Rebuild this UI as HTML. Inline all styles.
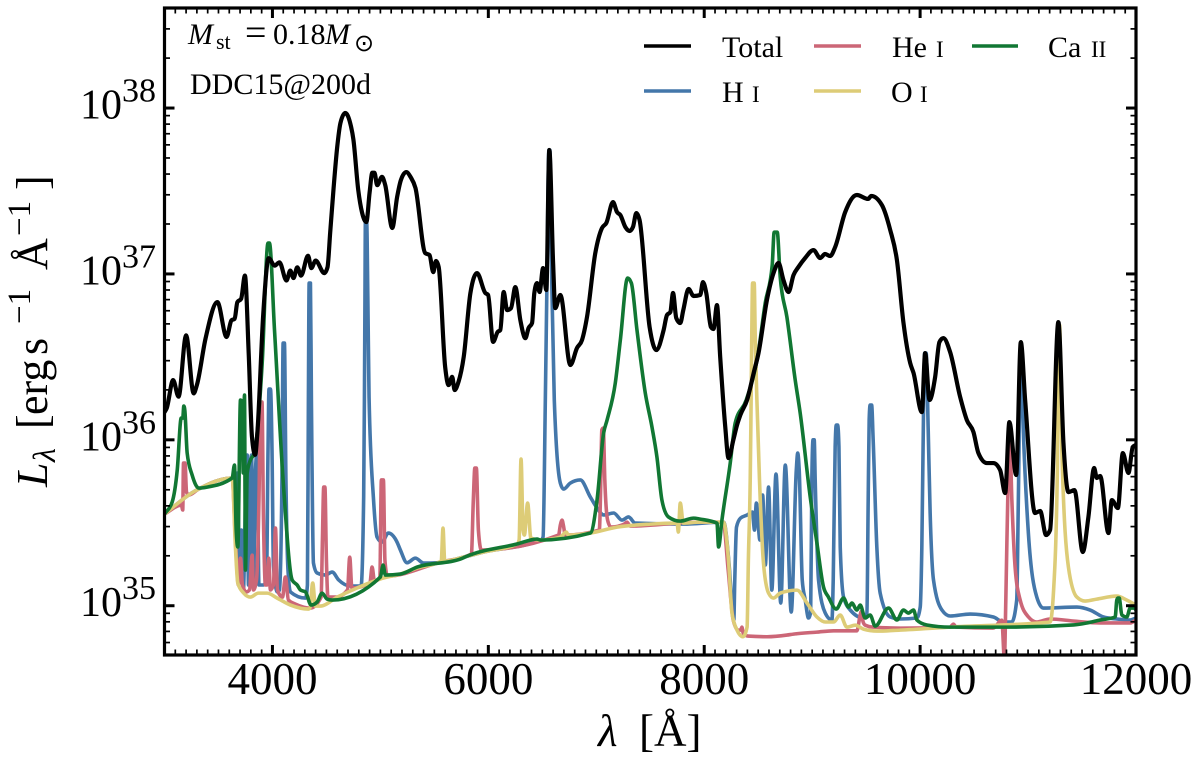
<!DOCTYPE html>
<html lang="en">
<head>
<meta charset="utf-8">
<title>Spectrum DDC15@200d</title>
<style>
html,body{margin:0;padding:0;background:#fff;width:1200px;height:767px;overflow:hidden}
svg{display:block}
text{font-family:"Liberation Serif","DejaVu Serif",serif;fill:#000}
</style>
</head>
<body>
<svg id="chart" xmlns="http://www.w3.org/2000/svg" width="1200" height="767" viewBox="0 0 1200 767">
  <defs><clipPath id="plot-clip"><rect x="164" y="8" width="972" height="647"/></clipPath></defs>
  <rect x="0" y="0" width="1200" height="767" fill="#fff"/>
  <g id="series" clip-path="url(#plot-clip)" fill="none" stroke-linejoin="round" stroke-linecap="round"></g>
  <g id="ticks" stroke="#000"></g>
  <rect x="164.5" y="8" width="971.5" height="647" fill="none" stroke="#000" stroke-width="3.2"/>
  <g id="tick-labels"></g>

  <text y="746" font-size="45"><tspan x="598" font-style="italic">λ</tspan><tspan x="639">[Å]</tspan></text>

  <text transform="translate(47,487) rotate(-90)" font-size="44"><tspan x="0" y="0" font-style="italic">L</tspan><tspan x="25" y="8" font-size="32" font-style="italic">λ</tspan><tspan x="58" y="0">[</tspan><tspan x="72" y="0">erg</tspan><tspan x="132" y="0">s</tspan><tspan x="163" y="-17" font-size="33">−1</tspan><tspan x="217" y="0">Å</tspan><tspan x="251" y="-17" font-size="33">−1</tspan><tspan x="297" y="0">]</tspan></text>

  <g>
    <text x="188" y="44" font-size="30" font-style="italic">M</text>
    <text x="216" y="49" font-size="22">st</text>
    <text x="245" y="45" font-size="38">=</text>
    <text x="273" y="44" font-size="30">0.18</text>
    <text x="325" y="44" font-size="30" font-style="italic">M</text>
    <text x="354" y="51" font-size="24" style='font-family:"DejaVu Sans",sans-serif'>⊙</text>
  </g>
  <text x="190" y="94" font-size="30">DDC15@200d</text>

  <g>
    <g>
      <line x1="644" y1="46" x2="691" y2="46" stroke="#000" stroke-width="3.6"/>
      <text x="722" y="57" font-size="30">Total</text>
    </g>
    <g>
      <line x1="644" y1="91" x2="691" y2="91" stroke="#4477AA" stroke-width="3.6"/>
      <text x="722" y="102" font-size="30">H</text><text x="752" y="102" font-size="23">I</text>
    </g>
    <g>
      <line x1="814" y1="46" x2="861" y2="46" stroke="#CC6677" stroke-width="3.6"/>
      <text x="892" y="57" font-size="30">He</text><text x="936" y="57" font-size="23">I</text>
    </g>
    <g>
      <line x1="814" y1="91" x2="861" y2="91" stroke="#DDCC77" stroke-width="3.6"/>
      <text x="891" y="102" font-size="30">O</text><text x="920" y="102" font-size="23">I</text>
    </g>
    <g>
      <line x1="972" y1="46" x2="1018" y2="46" stroke="#117733" stroke-width="3.6"/>
      <text x="1048" y="57" font-size="30">Ca</text><text x="1091" y="57" font-size="23">II</text>
    </g>
  </g>
</svg>
<script>
// Tick labels
const xTickValues = [4000, 6000, 8000, 10000, 12000];
const xTickLabels = ['4000', '6000', '8000', '10000', '12000'];
const yTickDecades = [35, 36, 37, 38];
const yTickExponents = ['35', '36', '37', '38'];

// Total spectrum (wavelength in Angstrom, log10 luminosity)
const totalWave = [
3000,3020,3080,3130,3200,3270,3300,3380,3490,3575,
3620,3650,3675,3710,3745,3780,3810,3840,3860,3915,
3965,4020,4065,4130,4165,4195,4230,4265,4330,4360,
4400,4480,4510,4535,4565,4600,4630,4675,4720,4750,
4795,4830,4870,4900,4925,4945,4970,5015,5045,5110,
5155,5190,5240,5280,5325,5415,5455,5490,5515,5540,
5600,5632,5665,5688,5720,5772,5834,5895,5972,5998,
6044,6086,6111,6142,6174,6210,6250,6297,6343,6373,
6405,6426,6451,6475,6507,6537,6565,6600,6620,6667,
6760,6821,6868,6914,6991,7053,7093,7155,7192,7223,
7269,7309,7340,7371,7401,7494,7556,7624,7655,7686,
7711,7741,7778,7806,7855,7901,7963,7988,8019,8062,
8086,8118,8148,8195,8225,8270,8304,8335,8397,8458,
8503,8581,8642,8688,8734,8781,8827,8873,8935,9012,
9074,9120,9167,9213,9306,9414,9519,9547,9646,9723,
9785,9846,9908,9939,10016,10047,10087,10139,10179,10216,
10278,10371,10433,10494,10540,10618,10679,10741,10788,10827,
10890,10933,10973,11065,11112,11167,11204,11281,11328,11374,
11430,11507,11559,11612,11637,11668,11745,11776,11832,11878,
11930,11970,12000];
const totalLogL = [
36.167,36.19,36.36,36.26,36.63,36.28,36.33,36.61,36.83,36.62,
36.72,36.73,36.83,36.85,36.99,36.52,36.02,35.91,36.04,36.76,
37.095,37.05,37.07,36.96,37.02,36.975,37.04,36.99,37.11,37.035,
37.08,37.005,37.04,37.25,37.505,37.765,37.91,37.97,37.91,37.81,
37.505,37.37,37.313,37.49,37.61,37.61,37.535,37.585,37.535,37.277,
37.464,37.566,37.614,37.584,37.518,37.126,37.114,37.011,37.078,37.042,
36.439,36.33,36.38,36.30,36.342,36.50,36.885,37.005,36.885,36.873,
36.59,36.65,36.662,36.891,36.782,36.794,36.921,36.72,36.613,36.674,
36.704,36.885,36.945,36.891,37.035,36.903,37.747,37.066,36.794,36.873,
36.451,36.553,36.602,36.74,37.126,37.277,37.307,37.433,37.373,37.355,
37.283,37.259,37.283,37.367,37.325,36.68,36.541,36.662,36.752,36.77,
36.885,36.734,36.704,36.782,36.909,36.867,36.873,36.951,36.885,36.68,
36.668,36.812,36.499,36.077,35.89,36.0,36.089,36.15,36.24,36.403,
36.523,36.843,37.005,37.066,36.963,36.891,36.993,37.042,37.096,37.144,
37.096,37.12,37.108,37.162,37.373,37.476,37.452,37.47,37.415,37.265,
37.084,36.704,36.463,36.403,36.167,36.523,36.24,36.378,36.589,36.613,
36.529,36.258,36.119,36.047,35.92,35.86,35.86,35.818,35.679,36.107,
35.788,36.589,36.24,35.559,35.571,35.426,35.456,36.71,35.98,35.685,
35.697,35.324,35.535,35.83,35.77,35.782,35.438,35.637,35.589,35.92,
35.80,35.957,35.97];

// H I
const hiWave = [
3000,3270,3315,3627,3657,3676,3694,3713,3731,3750,
3766,3778,3796,3806,3824,3843,3858,3875,3917,3945,
3959,3968,3982,3996,4009,4046,4065,4088,4099,4111,
4125,4144,4167,4306,4324,4333,4340,4352,4361,4380,
4414,4491,4553,4614,4722,4821,4845,4852,4857,4861,
4873,4884,4895,4935,4969,5015,5074,5154,5185,5247,
5324,5401,5525,5769,5954,6487,6507,6528,6542,6561,
6570,6589,6611,6667,6698,6759,6852,6945,7007,7068,
7161,7238,7299,7361,7806,8181,8227,8264,8274,8283,
8299,8336,8398,8447,8466,8483,8516,8541,8566,8596,
8626,8665,8709,8751,8806,8853,8866,8880,8908,8936,
8966,8986,8997,9008,9019,9028,9059,9121,9183,9195,
9213,9223,9236,9248,9260,9291,9353,9476,9507,9519,
9528,9537,9551,9565,9599,9630,9723,9815,9970,10001,
10016,10033,10042,10056,10075,10093,10124,10202,10278,10463,
10679,10771,10849,10895,10910,10932,10957,11003,11081,11142,
11452,11575,11699,11822,11946,12000];
const hiLogL = [
35.553,35.687,35.703,35.77,35.637,35.8,35.275,35.456,35.094,35.637,
35.908,35.125,35.818,35.908,35.125,35.818,35.926,35.125,35.125,35.155,
35.938,36.306,36.306,35.938,35.245,35.083,35.095,35.758,36.583,36.583,
35.758,35.215,35.083,35.046,35.125,36.24,36.945,36.945,36.24,35.257,
35.197,35.185,35.203,35.155,35.119,35.119,35.655,36.24,36.843,37.313,
37.313,36.843,36.258,35.655,35.414,35.384,35.438,35.384,35.336,35.259,
35.287,35.257,35.259,35.293,35.323,35.396,35.414,36.24,36.903,37.747,
37.747,36.903,36.24,35.739,35.703,35.739,35.758,35.655,35.589,35.547,
35.559,35.516,35.535,35.498,35.492,35.504,35.275,34.956,34.913,35.155,
35.474,35.528,35.547,35.565,35.456,35.619,35.396,35.667,35.245,35.715,
35.094,35.794,35.016,35.848,34.962,35.818,35.92,35.818,35.155,35.034,
34.926,34.962,35.758,36.0,36.0,35.758,35.155,34.956,34.914,35.155,
35.957,36.089,36.089,35.957,35.354,35.052,34.974,34.926,34.956,35.637,
36.119,36.21,36.21,36.0,35.354,35.076,34.932,34.92,34.926,34.992,
35.354,36.24,36.523,36.523,36.059,35.559,35.155,34.974,34.938,34.95,
34.932,34.902,34.902,35.034,35.637,36.583,36.041,35.438,35.052,34.986,
34.992,34.974,34.932,34.92,34.914,34.926];

// He I
const heiWave = [
3000,3157,3169,3176,3190,3204,3222,3315,3627,3657,
3685,3704,3722,3759,3787,3812,3824,3852,3875,3889,
3903,3917,3935,3949,3966,3981,4009,4028,4046,4093,
4120,4148,4213,4352,4451,4463,4475,4486,4500,4514,
4593,4695,4716,4736,4903,4923,4945,4995,5009,5028,
5042,5065,5555,5843,5861,5875,5889,5908,5935,6651,
6667,6683,6695,6713,7028,7042,7051,7065,7079,7105,
7136,7259,7284,7315,7963,8176,8222,8269,8315,8338,
8349,8361,8405,8581,8766,8827,9044,9198,9414,9445,
9454,9472,9491,9565,9815,10278,10309,10334,10676,10757,
10781,10794,10818,10831,10850,10880,10927,11004,11081,11204,
11417,11668,11946,12000];
const heiLogL = [
35.553,35.607,35.577,35.86,35.86,35.685,35.667,35.703,35.77,35.396,
35.125,35.287,35.125,35.083,35.095,35.305,35.095,35.155,35.637,36.228,
36.228,35.516,35.125,35.125,35.287,35.095,35.125,35.468,35.095,35.052,
35.173,35.034,35.01,34.986,35.052,35.396,35.715,35.715,35.275,35.052,
35.052,35.095,35.293,35.107,35.137,35.233,35.149,35.167,35.758,35.758,
35.275,35.179,35.263,35.311,35.637,35.83,35.83,35.456,35.336,35.426,
35.486,35.516,35.486,35.426,35.456,35.758,36.059,36.071,35.758,35.516,
35.474,35.492,35.504,35.48,35.504,35.504,35.215,34.913,34.853,34.853,
34.871,34.835,34.817,34.813,34.823,34.829,34.841,34.849,34.849,34.944,
34.964,34.902,34.883,34.871,34.865,34.871,34.889,34.871,34.865,34.913,
34.68,35.034,35.836,35.999,35.637,35.233,35.034,34.932,34.902,34.92,
34.908,34.896,34.896,34.914];

// O I
const oiWave = [
3000,3270,3315,3627,3657,3679,3734,3796,3870,3951,
4044,4167,4333,4347,4373,4398,4445,4600,4784,5028,
5185,5340,5546,5564,5580,5596,5769,5954,6266,6285,
6303,6322,6334,6364,6394,6482,6667,6722,6741,6945,
7192,7501,7749,7760,7778,7806,7963,8179,8225,8257,
8304,8359,8397,8409,8426,8432,8440,8448,8463,8473,
8488,8512,8549,8596,8642,8704,8859,8952,9044,9121,
9198,9260,9322,9399,9476,9600,9815,10278,11204,11235,
11272,11281,11292,11313,11374,11452,11529,11637,11822,11915,
12000];
const oiLogL = [
35.553,35.687,35.703,35.77,35.354,35.137,35.076,35.052,35.076,35.076,
35.046,35.004,34.98,34.986,35.137,34.998,34.998,35.052,35.107,35.167,
35.191,35.227,35.263,35.269,35.468,35.269,35.293,35.323,35.372,35.396,
35.884,35.456,35.426,35.619,35.408,35.396,35.414,35.444,35.426,35.438,
35.474,35.492,35.498,35.444,35.619,35.498,35.504,35.504,35.275,34.956,
34.853,34.813,34.871,35.275,35.758,36.077,36.602,36.945,36.945,36.602,
36.24,35.758,35.257,35.076,35.046,35.076,35.094,35.016,34.932,34.902,
34.902,34.944,34.871,34.883,34.859,34.847,34.853,34.871,34.902,35.076,
35.836,36.692,36.692,35.938,35.233,35.052,35.028,35.04,35.058,35.034,
35.004];

// Ca II
const caiiWave = [
3000,3071,3118,3155,3169,3179,3188,3210,3256,3318,
3395,3627,3648,3664,3679,3704,3720,3729,3741,3750,
3766,3796,3833,3905,3959,3972,4019,4105,4183,4229,
4259,4306,4358,4414,4460,4506,4552,5000,5025,5046,
5185,5340,5741,5803,6266,6451,6482,6945,7007,7068,
7100,7176,7223,7290,7325,7377,7454,7516,7562,7608,
7669,7778,7901,7963,8118,8133,8164,8241,8287,8389,
8500,8565,8630,8648,8676,8704,8766,8843,8889,8982,
9044,9105,9151,9223,9291,9337,9368,9414,9445,9491,
9537,9584,9707,9785,9846,9892,9939,9970,10062,10278,
10803,11420,11544,11668,11807,11822,11832,11844,11869,11915,
11946,11983,12000];
const caiiLogL = [
35.553,35.625,35.818,36.131,36.131,36.204,36.18,35.92,35.788,35.709,
35.715,35.77,35.848,35.456,35.354,36.24,36.228,35.8,36.27,35.215,
35.8,35.878,35.92,36.463,37.186,37.186,36.662,35.697,35.155,35.125,
35.095,35.083,35.004,35.022,35.076,35.04,35.034,35.173,35.245,35.185,
35.191,35.233,35.281,35.299,35.372,35.402,35.396,35.438,35.637,36.041,
36.119,36.342,36.602,36.975,36.945,36.662,36.282,36.077,35.896,35.637,
35.535,35.51,35.528,35.522,35.498,35.354,35.516,35.86,36.101,36.24,
36.523,36.824,37.054,37.252,37.252,36.981,36.74,36.36,36.162,35.655,
35.378,35.113,35.052,34.98,35.046,34.992,35.016,34.974,35.004,34.926,
34.944,34.877,34.986,34.914,34.974,34.956,34.974,34.914,34.884,34.871,
34.871,34.884,34.896,34.914,34.932,35.034,35.046,35.046,34.944,34.932,
34.986,34.986,34.974];

// Axis functions
const xDomain = [3000, 12000];
const yDomain = [34.703, 38.603];
const plotBox = { left: 164.5, right: 1136, top: 8, bottom: 655 };
function xScale(w) {
  return plotBox.left + (w - xDomain[0]) / (xDomain[1] - xDomain[0]) * (plotBox.right - plotBox.left);
}
function yScale(logL) {
  return plotBox.bottom - (logL - yDomain[0]) / (yDomain[1] - yDomain[0]) * (plotBox.bottom - plotBox.top);
}

const NS = 'http://www.w3.org/2000/svg';
const seriesGroup = document.getElementById('series');
const tickGroup = document.getElementById('ticks');
const labelGroup = document.getElementById('tick-labels');

// Smooth path through the samples without overshooting (monotone in x)
function smoothPath(px, py) {
  const n = px.length;
  const seg = [];
  for (let i = 0; i < n - 1; i++) {
    seg.push((py[i + 1] - py[i]) / ((px[i + 1] - px[i]) || 1e-6));
  }
  const tan = [];
  for (let i = 0; i < n; i++) {
    if (i === 0) { tan.push(seg[0]); continue; }
    if (i === n - 1) { tan.push(seg[n - 2]); continue; }
    const h0 = px[i] - px[i - 1];
    const h1 = px[i + 1] - px[i];
    const s0 = seg[i - 1];
    const s1 = seg[i];
    const p = (s0 * h1 + s1 * h0) / ((h0 + h1) || 1e-6);
    const sg = (s0 < 0 ? -1 : 1) + (s1 < 0 ? -1 : 1);
    tan.push(sg * Math.min(Math.abs(s0), Math.abs(s1), 0.5 * Math.abs(p)) || 0);
  }
  let d = 'M' + px[0].toFixed(2) + ' ' + py[0].toFixed(2);
  for (let i = 0; i < n - 1; i++) {
    const dx = (px[i + 1] - px[i]) / 3;
    d += 'C' + (px[i] + dx).toFixed(2) + ' ' + (py[i] + dx * tan[i]).toFixed(2) + ' ' +
         (px[i + 1] - dx).toFixed(2) + ' ' + (py[i + 1] - dx * tan[i + 1]).toFixed(2) + ' ' +
         px[i + 1].toFixed(2) + ' ' + py[i + 1].toFixed(2);
  }
  return d;
}

function drawSeries(waves, logs, color, width) {
  const n = Math.min(waves.length, logs.length);
  const px = [];
  const py = [];
  for (let i = 0; i < n; i++) {
    px.push(xScale(waves[i]));
    py.push(yScale(logs[i]));
  }
  const p = document.createElementNS(NS, 'path');
  p.setAttribute('d', smoothPath(px, py));
  p.setAttribute('stroke', color);
  p.setAttribute('stroke-width', width);
  seriesGroup.appendChild(p);
  return p;
}

const hiLine = drawSeries(hiWave, hiLogL, '#4477AA', 3.6);


const heiLine = drawSeries(heiWave, heiLogL, '#CC6677', 3.6);


const oiLine = drawSeries(oiWave, oiLogL, '#DDCC77', 3.6);


const caiiLine = drawSeries(caiiWave, caiiLogL, '#117733', 3.6);


const totalLine = drawSeries(totalWave, totalLogL, '#000000', 4.2);



function drawTick(x1, y1, x2, y2, width) {
  const t = document.createElementNS(NS, 'line');
  t.setAttribute('x1', x1);
  t.setAttribute('y1', y1);
  t.setAttribute('x2', x2);
  t.setAttribute('y2', y2);
  t.setAttribute('stroke-width', width);
  
  
  tickGroup.appendChild(t);
}

// x ticks: minor every 100 A, major from the tick list
for (let w = xDomain[0] + 100; w < xDomain[1]; w += 100) {
  const x = xScale(w);
  const major = xTickValues.indexOf(w) >= 0;
  const len = major ? 10 : 5.5;
  const wd = major ? 3 : 1.7;
  drawTick(x, plotBox.bottom, x, plotBox.bottom - len, wd);
  drawTick(x, plotBox.top, x, plotBox.top + len, wd);
}

// y ticks: log-spaced minors and decades
for (let dec = 34; dec <= 38; dec++) {
  for (let k = 1; k <= 9; k++) {
    const v = dec + Math.log10(k);
    if (v <= yDomain[0] || v >= yDomain[1]) continue;
    const y = yScale(v);
    const major = k === 1;
    const len = major ? 10 : 5.5;
    const wd = major ? 3 : 1.7;
    drawTick(plotBox.left, y, plotBox.left + len, y, wd);
    drawTick(plotBox.right, y, plotBox.right - len, y, wd);
  }
}

// x tick labels
xTickValues.forEach(function (w, i) {
  const t = document.createElementNS(NS, 'text');
  t.setAttribute('x', xScale(w));
  t.setAttribute('y', 694);
  t.setAttribute('text-anchor', 'middle');
  t.setAttribute('font-size', '45');
  
  
  t.textContent = xTickLabels[i];
  labelGroup.appendChild(t);
});

// y tick labels
yTickDecades.forEach(function (d, i) {
  const y = yScale(d) + 10.5;
  const base = document.createElementNS(NS, 'text');
  base.setAttribute('x', 80);
  base.setAttribute('y', y);
  base.setAttribute('font-size', '42');
  
  
  base.textContent = '10';
  labelGroup.appendChild(base);
  const exp = document.createElementNS(NS, 'text');
  exp.setAttribute('x', 122);
  exp.setAttribute('y', y - 17);
  exp.setAttribute('font-size', '34');
  
  
  exp.textContent = yTickExponents[i];
  labelGroup.appendChild(exp);
});
</script>
</body>
</html>
